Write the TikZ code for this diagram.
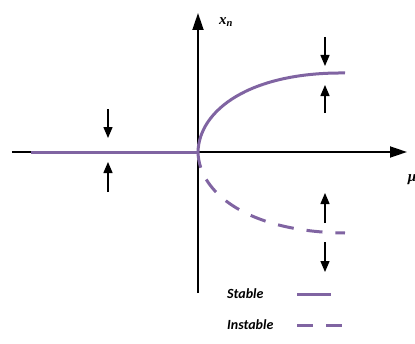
\documentclass[tikz,border=0pt]{standalone}
\usepackage{fontspec}
\newfontfamily\legendfont{Carlito}
\newfontfamily\labelfont{Liberation Serif}
\usetikzlibrary{arrows.meta}
\definecolor{branch}{HTML}{8064A2}

\begin{document}
\begin{tikzpicture}[x=1pt, y=1pt,
  axis/.style={line width=1.8pt, -{Triangle[length=17pt, width=11pt]}},
  stablebr/.style={branch, line width=3pt},
  instablebr/.style={branch, line width=3pt, dash pattern=on 16pt off 13pt},
  flow/.style={line width=1.3pt, -{Triangle[length=11pt, width=9pt]}},
  axlabel/.style={inner sep=0pt, font=\labelfont\fontsize{15}{17}\selectfont\bfseries\itshape},
  legtext/.style={anchor=west, inner sep=0pt, font=\legendfont\fontsize{14}{16}\selectfont\bfseries\itshape}]
\useasboundingbox (-198,-191) rectangle (217,152);
\coordinate (orig) at (0,0);
% axes
\draw[axis] (-186,0) -- (209,0) node[axlabel] (mu) at (214,-28) {μ};
\draw[axis] (0,-141) -- (0,139) node[axlabel] (xn) at (28,130) {x\textsubscript{n}};
% branches
\draw[stablebr] (-167,0) -- (orig);
\draw[stablebr] (orig) .. controls (1,42) and (52,80) .. (147,79);
\draw[instablebr] (orig) .. controls (1,-42) and (52,-80) .. (147,-81);
% flow arrows
\draw[flow] (-90,43) -- (-90,14);
\draw[flow] (-90,-40) -- (-90,-10);
\draw[flow] (127,115) -- (127,86);
\draw[flow] (127,39) -- (127,67);
\draw[flow] (127,-71) -- (127,-41);
\draw[flow] (127,-90) -- (127,-120);
% legend
\node[legtext] (stable) at (29,-142) {Stable};
\node[legtext] (instable) at (29,-173) {Instable};
\draw[stablebr] (99,-142) -- (133,-142);
\draw[instablebr] (99,-173) -- (145,-173);
\end{tikzpicture}
\end{document}
